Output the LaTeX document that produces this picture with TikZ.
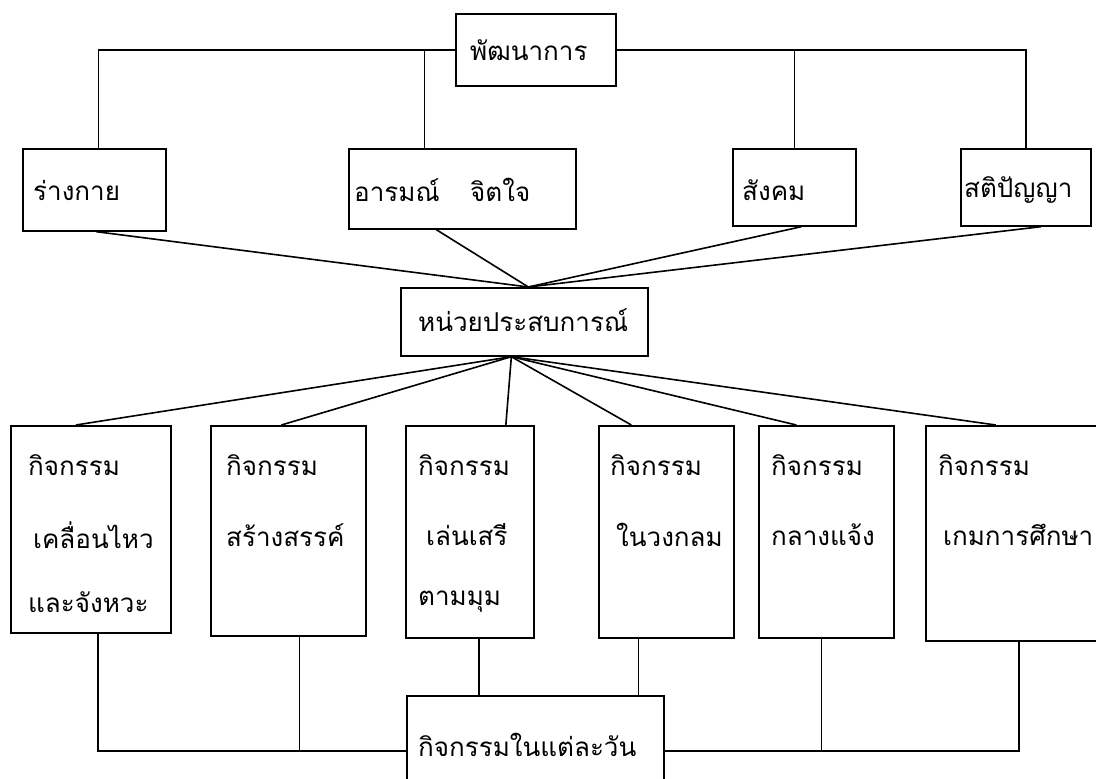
\documentclass[tikz,border=0pt]{standalone}
\usepackage{fontspec}
\newfontfamily\thaifont[Script=Thai]{Loma}
\begin{document}
\begin{tikzpicture}[x=1pt,y=-1pt,
  box/.style={draw,line width=1.7pt,inner sep=0pt,anchor=north west},
  lbl/.style={anchor=west,inner sep=0pt,font=\thaifont\fontsize{26}{30}\selectfont},
  conn/.style={line width=1.6pt}]
\useasboundingbox (0,0) rectangle (1096,779);
% top
\node[box,minimum width=160,minimum height=72] (dev) at (455,13) {};
\node[lbl] (tdev) at (470,50) {พัฒนาการ};
\node[box,minimum width=143,minimum height=82] (b1) at (22,148) {};
\node[lbl] (t1) at (33,190) {ร่างกาย};
\node[box,minimum width=227,minimum height=80] (b2) at (348,148) {};
\node[lbl] (t2a) at (354,190) {อารมณ์};
\node[lbl] (t2b) at (470,190) {จิตใจ};
\node[box,minimum width=123,minimum height=77] (b3) at (732,148) {};
\node[lbl] (t3) at (742,190) {สังคม};
\node[box,minimum width=130,minimum height=77] (b4) at (960,148) {};
\node[lbl] (t4) at (964,190) {สติปัญญา};
% hub
\node[box,minimum width=247,minimum height=68] (hub) at (400,287) {};
\node[lbl] (th) at (418,320) {หน่วยประสบการณ์};
% children
\node[box,minimum width=160,minimum height=207] (c1) at (10,425) {};
\node[box,minimum width=155,minimum height=210] (c2) at (210,425) {};
\node[box,minimum width=128,minimum height=212] (c3) at (405,425) {};
\node[box,minimum width=135,minimum height=212] (c4) at (598,425) {};
\node[box,minimum width=135,minimum height=212] (c5) at (758,425) {};
\node[box,minimum width=180,minimum height=215] (c6) at (925,425) {};
\node[lbl] at (28,465) {กิจกรรม};
\node[lbl] at (33,535) {เคลื่อนไหว};
\node[lbl] at (28,602) {และจังหวะ};
\node[lbl] at (226,465) {กิจกรรม};
\node[lbl] at (226,535) {สร้างสรรค์};
\node[lbl] at (418,465) {กิจกรรม};
\node[lbl] at (426,535) {เล่นเสรี};
\node[lbl] at (418,602) {ตามมุม};
\node[lbl] at (610,465) {กิจกรรม};
\node[lbl] at (616,535) {ในวงกลม};
\node[lbl] at (771,465) {กิจกรรม};
\node[lbl] at (771,535) {กลางแจ้ง};
\node[lbl] at (938,465) {กิจกรรม};
\node[lbl] at (943,535) {เกมการศึกษา};
% bottom
\node[box,minimum width=257,minimum height=110] (day) at (406,695) {};
\node[lbl] (td) at (418,745) {กิจกรรมในแต่ละวัน};
% connectors top
\draw[conn] (dev.west) -| ([xshift=4]b1.north);
\draw[conn] ([xshift=-38]b2.north) |- (dev.west);
\draw[conn] (dev.east) -| (b4.north);
\draw[conn] (b3.north) |- (dev.east);
% fan in
\draw[conn] ([xshift=2]b1.south) -- ([xshift=4]hub.north);
\draw[conn] ([xshift=-26]b2.south) -- ([xshift=4]hub.north);
\draw[conn] ([xshift=7]b3.south) -- ([xshift=4]hub.north);
\draw[conn] ([xshift=15]b4.south) -- ([xshift=4]hub.north);
% fan out
\draw[conn] ([xshift=-13]hub.south) -- ([xshift=-15]c1.north);
\draw[conn] ([xshift=-13]hub.south) -- ([xshift=-7]c2.north);
\draw[conn] ([xshift=-13]hub.south) -- ([xshift=36]c3.north);
\draw[conn] ([xshift=-13]hub.south) -- ([xshift=-35]c4.north);
\draw[conn] ([xshift=-13]hub.south) -- ([xshift=-30]c5.north);
\draw[conn] ([xshift=-13]hub.south) -- ([xshift=-20]c6.north);
% bottom connectors
\draw[conn] ([xshift=7]c1.south) |- (day.west);
\draw[conn] ([xshift=11]c2.south) -- ++(0,115);
\draw[conn] ([xshift=9]c3.south) -- ([xshift=9]c3.south |- day.north);
\draw[conn] ([xshift=-28]c4.south) -- ([xshift=-28]c4.south |- day.north);
\draw[conn] ([xshift=3]c6.south) |- (day.east);
\draw[conn] ([xshift=-5]c5.south) -- ++(0,113);
\end{tikzpicture}
\end{document}
